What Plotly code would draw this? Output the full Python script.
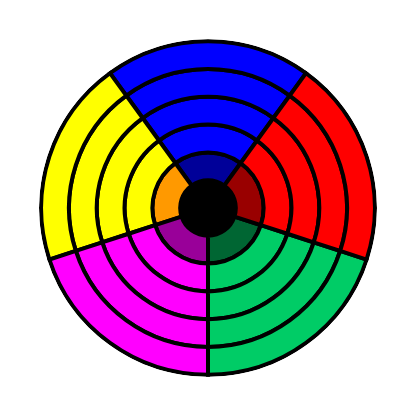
import plotly.graph_objects as go

theta = [90, 162, 234, 306, 18]
ring_r = [1, 1, 1, 1, 1]
core_colors = ["#000000"] * 5
inner_colors = ["#000099", "#FF9900", "#990099", "#006633", "#990000"]
outer_colors = ["#0000FF", "#FFFF00", "#FF00FF", "#00CC66", "#FF0000"]
ring_colors = [core_colors, inner_colors, outer_colors, outer_colors, outer_colors, outer_colors]

fig = go.Figure()
for cols in ring_colors:
    fig.add_trace(go.Barpolar(
        r=ring_r, theta=theta, width=[72] * 5,
        marker=dict(color=cols, line=dict(color="black", width=4)),
        showlegend=False, hoverinfo="skip",
    ))

fig.update_layout(
    width=417, height=417,
    margin=dict(l=31, r=48, t=31, b=48),
    paper_bgcolor="white",
    polar=dict(
        barmode="stack",
        bgcolor="white",
        radialaxis=dict(visible=False, range=[0, 6.08]),
        angularaxis=dict(visible=False, direction="counterclockwise", rotation=0),
    ),
)
fig.write_html("out.html")
